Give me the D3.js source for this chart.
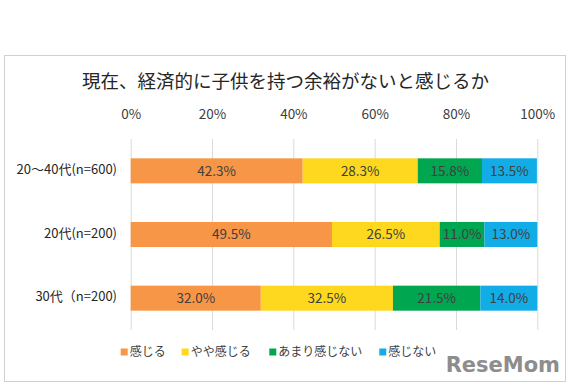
<!DOCTYPE html>
<html>
<head>
<meta charset="utf-8">
<script src="https://cdn.jsdelivr.net/npm/d3@7"></script>
<style>
  html, body { margin: 0; padding: 0; background: #fff; }
  svg { display: block; }
  text { font-family: "Noto Sans CJK JP", "Noto Sans", sans-serif; }
</style>
</head>
<body>
<svg id="chart" width="576" height="389"></svg>
<script>
const title = "現在、経済的に子供を持つ余裕がないと感じるか";
const categories = ["20～40代(n=600)", "20代(n=200)", "30代（n=200)"];
const seriesNames = ["感じる", "やや感じる", "あまり感じない", "感じない"];
const seriesColors = ["#F79646", "#FDD81E", "#00A650", "#12ACE6"];
const feel = [42.3, 49.5, 32.0];
const somewhatFeel = [28.3, 26.5, 32.5];
const notMuch = [15.8, 11.0, 21.5];
const notFeel = [13.5, 13.0, 14.0];
const tickValues = [0, 20, 40, 60, 80, 100];
const watermark = "ReseMom";

const seriesValues = [feel, somewhatFeel, notMuch, notFeel];
const rows = categories.map((c, i) => {
  const r = { category: c };
  seriesNames.forEach((s, j) => r[s] = seriesValues[j][i]);
  return r;
});

const svg = d3.select("#chart");
svg.append("rect").attr("x", 0).attr("y", 0).attr("width", 576).attr("height", 389).attr("fill", "#fff");
// outer frame
svg.append("rect").attr("x", 4.5).attr("y", 55.5).attr("width", 561).attr("height", 326)
  .attr("fill", "#fff").attr("stroke", "#d0d0d0").attr("stroke-width", 1);

svg.append("text").attr("x", 285.5).attr("y", 88).attr("text-anchor", "middle")
  .attr("font-size", 18.5).attr("fill", "#262626").text(title);

const x = d3.scaleLinear().domain([0, 100]).range([130.7, 537.3]);
const y = d3.scaleBand().domain(categories).range([139, 330]).paddingInner(0.607).paddingOuter(0.3035);

// gridlines
const grid = svg.append("g").attr("transform", "translate(0,330)")
  .call(d3.axisTop(x).tickValues(tickValues).tickSize(191).tickFormat(""));
grid.select(".domain").remove();
grid.selectAll("line").attr("stroke", "#d9d9d9").attr("stroke-width", 1);

// top tick labels
const ax = svg.append("g").attr("transform", "translate(0,122)")
  .call(d3.axisTop(x).tickValues(tickValues).tickSize(0).tickFormat(d => d + "%"));
ax.select(".domain").remove();
ax.selectAll("text").attr("font-size", 13.5).attr("fill", "#404040")
  .style("font-family", '"Noto Sans CJK JP", sans-serif');

// category labels
const yAx = svg.append("g").attr("transform", "translate(117,0)")
  .call(d3.axisLeft(y).tickSize(0).tickPadding(0));
yAx.select(".domain").remove();
yAx.selectAll("text").attr("font-size", 13).attr("fill", "#262626")
  .style("font-family", '"Noto Sans CJK JP", sans-serif').attr("dy", "0.25em");

const stacked = d3.stack().keys(seriesNames)(rows);
const layers = svg.append("g").selectAll("g").data(stacked).join("g")
  .attr("fill", (d, i) => seriesColors[i]);
layers.selectAll("rect").data(d => d).join("rect")
  .attr("x", d => x(d[0])).attr("width", d => x(d[1]) - x(d[0]))
  .attr("y", d => y(d.data.category)).attr("height", y.bandwidth());

const labels = svg.append("g").selectAll("g").data(stacked).join("g");
labels.selectAll("text").data(d => d).join("text")
  .attr("x", d => (x(d[0]) + x(d[1])) / 2)
  .attr("y", d => y(d.data.category) + y.bandwidth() / 2)
  .attr("dy", "0.36em").attr("text-anchor", "middle")
  .attr("font-size", 13.5).attr("fill", "#404040")
  .text(d => (d[1] - d[0]).toFixed(1) + "%");

// legend
const legendX = [120.7, 181.7, 269.3, 379.3];
const legend = svg.append("g").selectAll("g").data(seriesNames).join("g")
  .attr("transform", (d, i) => `translate(${legendX[i]},352)`);
legend.append("rect").attr("x", 0).attr("y", -3.5).attr("width", 7).attr("height", 7)
  .attr("fill", (d, i) => seriesColors[i]);
legend.append("text").attr("x", 9).attr("dy", "0.36em").attr("font-size", 12)
  .attr("fill", "#404040").text(d => d);

// watermark
svg.append("text").attr("x", 560).attr("y", 372).attr("text-anchor", "end")
  .attr("font-size", 21).attr("font-weight", "bold").attr("fill", "#7a7a7a")
  .attr("opacity", 0.85).style("font-family", '"DejaVu Sans", sans-serif').text(watermark);
</script>
</body>
</html>
